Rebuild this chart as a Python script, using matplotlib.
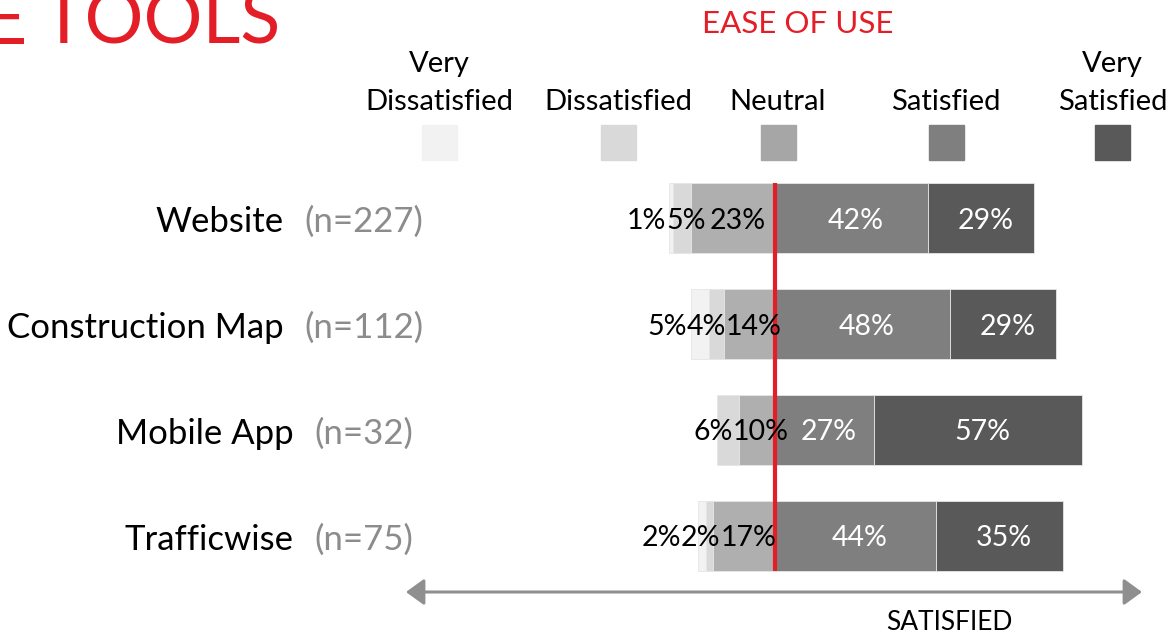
import matplotlib
matplotlib.use('Agg')
import matplotlib.pyplot as plt
import numpy as np

# ---------------- data ----------------
tools = ['Website', 'Construction Map', 'Mobile App', 'Trafficwise']
counts = ['(n=227)', '(n=112)', '(n=32)', '(n=75)']
levels = ['Very\nDissatisfied', 'Dissatisfied', 'Neutral', 'Satisfied', 'Very\nSatisfied']
very_dissatisfied = [1, 5, 0, 2]
dissatisfied = [5, 4, 6, 2]
neutral = [23, 14, 10, 17]
satisfied = [42, 48, 27, 44]
very_satisfied = [29, 29, 57, 35]

bar_colors = ['#F2F2F2', '#D9D9D9', '#AFAFAF', '#7F7F7F', '#595959']
legend_colors = ['#F2F2F2', '#D9D9D9', '#A6A6A6', '#7F7F7F', '#595959']
label_colors = ['black', 'black', 'black', 'white', 'white']
RED = '#E41E26'
GRAY_TXT = '#8C8C8C'

plt.rcParams['font.family'] = ['Lato', 'DejaVu Sans']

W, H = 1170, 634
fig = plt.figure(figsize=(W / 100, H / 100), dpi=100)


def fx(x):
    return x / W


def fy(y):
    return 1 - y / H


# axes: x px 406..1142, y px 165..589
ax = fig.add_axes([fx(406), fy(589), (1142 - 406) / W, 424 / H])
PX_PER_PCT = 3.65
ax.set_xlim((406 - 775) / PX_PER_PCT, (1142 - 775) / PX_PER_PCT)
ax.set_ylim(3.5, -0.5)
ax.axis('off')

series = [very_dissatisfied, dissatisfied, neutral, satisfied, very_satisfied]
y = np.arange(len(tools))
bar_h = 0.66

lefts = np.array([-(very_dissatisfied[i] + dissatisfied[i] + neutral[i])
                  for i in range(len(tools))], dtype=float)

texts = []
start = lefts.copy()
for k, vals in enumerate(series):
    vals = np.array(vals, dtype=float)
    ax.barh(y, vals, left=start, height=bar_h, color=bar_colors[k],
            edgecolor='#E6E6E6', linewidth=0.6)
    row_texts = []
    for i in range(len(tools)):
        if vals[i] > 0:
            t = ax.text(start[i] + vals[i] / 2 + 1.2, y[i], f'{int(vals[i])}%',
                        ha='center', va='center_baseline', fontsize=20.5,
                        color=label_colors[k])
            row_texts.append(t)
        else:
            row_texts.append(None)
    texts.append(row_texts)
    start = start + vals

# red reference line at the neutral / satisfied boundary
ax.vlines(0, -bar_h / 2, 3 + bar_h / 2, color=RED, linewidth=3)

# resolve label overlap on left side (push leftwards)
fig.canvas.draw()
renderer = fig.canvas.get_renderer()
inv = ax.transData.inverted()
for i in range(len(tools)):
    right_limit = None
    for k in [2, 1, 0]:
        t = texts[k][i]
        if t is None:
            continue
        bb = t.get_window_extent(renderer)
        if right_limit is not None and bb.x1 > right_limit:
            shift = bb.x1 - right_limit
            cx = (bb.x0 + bb.x1) / 2 - shift
            xd = inv.transform((cx, bb.y0))[0]
            t.set_x(xd)
            bb = t.get_window_extent(renderer)
        right_limit = bb.x0

# row labels
for i, (name, n) in enumerate(zip(tools, counts)):
    yc = 218 + 106 * i + 4
    tn = fig.text(fx(364), fy(yc), n, ha='center', va='center',
                  fontsize=25, color=GRAY_TXT)
    fig.canvas.draw()
    bb = tn.get_window_extent(fig.canvas.get_renderer())
    fig.text((bb.x0 - 21) / W, fy(yc), name, ha='right', va='center',
             fontsize=25, color='black')

# legend
leg_x = [439.5, 618, 778, 946, 1112.5]
for lab, cx, col in zip(levels, leg_x, legend_colors):
    lines = lab.split('\n')
    base = 110
    for j, line in enumerate(reversed(lines)):
        fig.text(fx(cx), fy(base - 38 * j), line, ha='center', va='baseline',
                 fontsize=21, color='black')
    fig.patches.append(plt.Rectangle((fx(cx - 17.5), fy(160)), 35 / W, 35 / H,
                                     transform=fig.transFigure, color=col,
                                     figure=fig))

# titles
fig.text(fx(798), fy(33), 'EASE OF USE', ha='center', va='baseline',
         fontsize=22.5, color=RED)
fig.text(fx(27), fy(44), 'E', ha='right', va='baseline',
         fontsize=54, color=RED)
fig.text(fx(281), fy(44), 'TOOLS', ha='right', va='baseline',
         fontsize=53, color=RED)

# bottom arrow
ax.annotate('', xy=(1142, H - 592), xytext=(406, H - 592),
            xycoords='figure pixels', textcoords='figure pixels',
            arrowprops=dict(arrowstyle='<|-|>,head_length=0.55,head_width=0.4',
                            color='#8F8F8F', lw=2.2, mutation_scale=20,
                            shrinkA=0, shrinkB=0))
fig.text(fx(949), fy(630), 'SATISFIED', ha='center', va='baseline',
         fontsize=19, color='black')

fig.savefig('out.png', dpi=100)
